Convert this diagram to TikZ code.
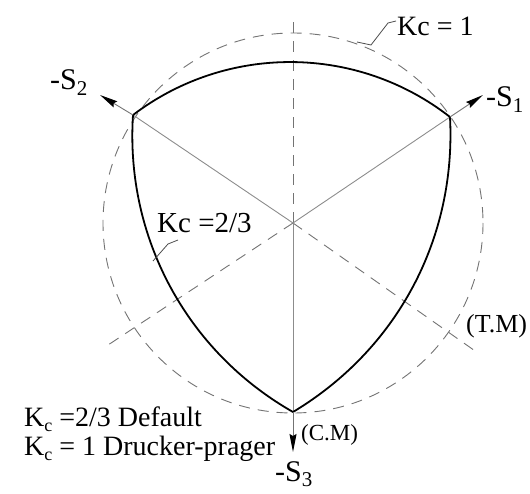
\documentclass[tikz,border=0pt]{standalone}
\usepackage{fontspec}
\setmainfont{Liberation Serif}
\usetikzlibrary{arrows.meta}
\newcommand\lowsub[2]{\raisebox{-0.18em}{\fontsize{#1}{#1}\selectfont #2}}
\begin{document}
\begin{tikzpicture}[x=1pt,y=-1pt,
  dashline/.style={draw=black!55, line width=0.9pt, dash pattern=on 11pt off 8pt},
  radial/.style={draw=black!45, line width=0.9pt},
  yieldcurve/.style={draw=black, line width=1.8pt, line join=round},
  axisarrow/.style={draw=black!55, line width=0.9pt, -{Stealth[length=18pt,width=7pt,inset=2pt,color=black]}},
  leader/.style={draw=black!70, line width=0.8pt},
  lbl/.style={inner sep=0pt, anchor=base west}]
\useasboundingbox (0,0) rectangle (530,494);
% key points
\coordinate (O) at (293,223);
\coordinate (A1) at (450,117);
\coordinate (A2) at (133,115);
\coordinate (A3) at (293,412);
\coordinate (Dtop) at (293,20);
\coordinate (Dr) at (478,353);
\coordinate (Dl) at (105,347);
\coordinate (T1) at (483,95);
\coordinate (T2) at (100,95);
\coordinate (T3) at (293,452);
% Kc = 1 circle
\draw[dashline] (O) circle[radius=190];
% dashed axes
\draw[dashline] (O) -- (Dtop);
\draw[dashline] (O) -- (Dr);
\draw[dashline] (O) -- (Dl);
% solid radial lines
\draw[radial] (O) -- (A1);
\draw[radial] (O) -- (A2);
\draw[radial] (O) -- (A3);
% Kc = 2/3 surface
\draw[yieldcurve] (A2) to[bend left=37.6, looseness=0.95] (A1)
  to[bend left=31, looseness=0.93] (A3)
  to[bend left=32, looseness=0.93] (A2);
% axis arrows
\draw[axisarrow] (A1) -- (T1);
\draw[axisarrow] (A2) -- (T2);
\draw[axisarrow] (A3) -- (T3);
% labels
\node[lbl, font=\fontsize{30}{30}\selectfont] (s1) at (486,107) {-S\lowsub{21}{1}};
\node[lbl, font=\fontsize{30}{30}\selectfont] (s2) at (50,90) {-S\lowsub{21}{2}};
\node[lbl, font=\fontsize{30}{30}\selectfont] (s3) at (275,481) {-S\lowsub{21}{3}};
\node[lbl, font=\fontsize{28}{28}\selectfont] (kc1) at (397,36) {Kc = 1};
\node[lbl, font=\fontsize{29}{29}\selectfont] (kc23) at (157,233) {Kc =2/3};
\node[lbl, font=\fontsize{23}{23}\selectfont] (cm) at (301,440) {(C.M)};
\node[lbl, font=\fontsize{26}{26}\selectfont] (tm) at (466,332) {(T.M)};
\node[lbl, font=\fontsize{28}{28}\selectfont] (leg1) at (24,426) {K\lowsub{18}{c} =2/3 Default};
\node[lbl, font=\fontsize{28}{28}\selectfont] (leg2) at (24,455) {K\lowsub{18}{c} = 1 Drucker-prager};
% leaders
\coordinate (L1a) at (357,42);
\coordinate (L1b) at (371,45);
\coordinate (L1c) at (388,23);
\coordinate (L1d) at (396,21);
\draw[leader] (L1a) -- (L1b) -- (L1c) -- (L1d);
\coordinate (L2a) at (153,261);
\coordinate (L2b) at (168,244);
\coordinate (L2c) at (178,240);
\draw[leader] (L2a) -- (L2b) -- (L2c);
\end{tikzpicture}
\end{document}
